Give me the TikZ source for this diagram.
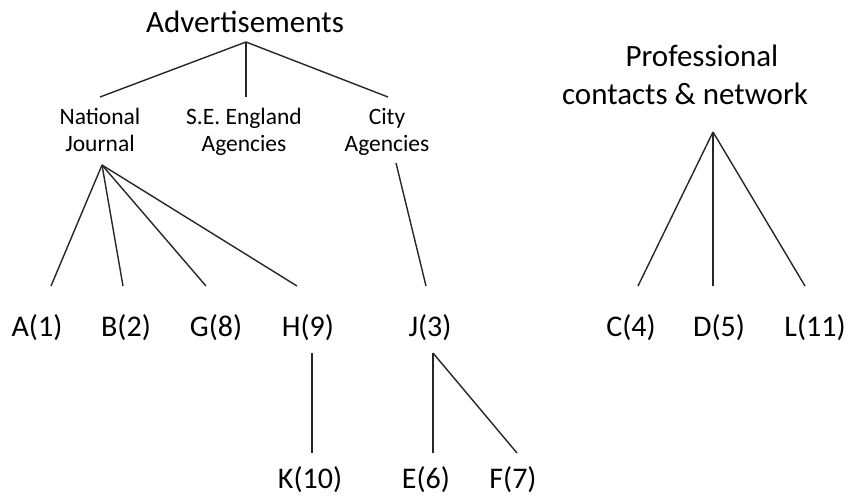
\documentclass[tikz,border=0pt]{standalone}
\usepackage{fontspec}
\setmainfont{Carlito}
\usetikzlibrary{positioning}

\begin{document}
\begin{tikzpicture}[
  x=1pt, y=-1pt,
  heading/.style={font=\fontsize{31}{38}\selectfont, align=center,
                  inner sep=0pt, anchor=base},
  channel/.style={font=\fontsize{23.5}{28}\selectfont, align=center,
                  inner sep=0pt, anchor=base},
  leaf/.style={font=\fontsize{30}{36}\selectfont, inner sep=0pt, anchor=base},
  link/.style={line width=1.4pt, black!85},
]
  \useasboundingbox (0,0) rectangle (851,500);

  % Headings
  \node[heading] (ads) at (245,33) {Advertisements};
  \node[heading] (prof) at (685,105) {\hspace*{34pt}Professional\\contacts \& network};

  % Advertising channels
  \node[channel] (nj) at (100,152) {National\\Journal};
  \node[channel] (se) at (244,152) {S.E. England\\Agencies};
  \node[channel] (city) at (387,152) {City\\Agencies};

  % Candidates, first row
  \node[leaf] (a1) at (37,336) {A(1)};
  \node[leaf] (b2) at (126,336) {B(2)};
  \node[leaf] (g8) at (216,336) {G(8)};
  \node[leaf] (h9) at (308,336) {H(9)};
  \node[leaf] (j3) at (430,336) {J(3)};
  \node[leaf] (c4) at (631,336) {C(4)};
  \node[leaf] (d5) at (719,336) {D(5)};
  \node[leaf] (l11) at (815,336) {L(11)};

  % Candidates, second row
  \node[leaf] (k10) at (310,488) {K(10)};
  \node[leaf] (e6) at (426,488) {E(6)};
  \node[leaf] (f7) at (513,488) {F(7)};

  % Advertisements -> channels
  \draw[link] ([shift={(1pt,-9pt)}]ads.base) -- ([yshift=55pt]nj.base);
  \draw[link] ([shift={(1pt,-9pt)}]ads.base) -- ([shift={(2pt,55pt)}]se.base);
  \draw[link] ([shift={(1pt,-9pt)}]ads.base) -- ([shift={(1pt,55pt)}]city.base);

  % National Journal
  \draw[link] ([shift={(2pt,-13pt)}]nj.base) -- ([shift={(14pt,50pt)}]a1.base);
  \draw[link] ([shift={(2pt,-13pt)}]nj.base) -- ([shift={(-3pt,50pt)}]b2.base);
  \draw[link] ([shift={(2pt,-13pt)}]nj.base) -- ([shift={(-10pt,50pt)}]g8.base);
  \draw[link] ([shift={(2pt,-13pt)}]nj.base) -- ([shift={(-11pt,50pt)}]h9.base);

  % City Agencies
  \draw[link] ([shift={(9pt,-11pt)}]city.base) -- ([shift={(-4pt,50pt)}]j3.base);

  % Professional contacts
  \draw[link] ([shift={(28pt,-27pt)}]prof.base) -- ([shift={(7pt,50pt)}]c4.base);
  \draw[link] ([shift={(28pt,-27pt)}]prof.base) -- ([shift={(-6pt,50pt)}]d5.base);
  \draw[link] ([shift={(28pt,-27pt)}]prof.base) -- ([shift={(-10pt,50pt)}]l11.base);

  % Second level
  \draw[link] ([shift={(4pt,-17pt)}]h9.base) -- ([shift={(2pt,35pt)}]k10.base);
  \draw[link] ([shift={(3pt,-17pt)}]j3.base) -- ([shift={(7pt,35pt)}]e6.base);
  \draw[link] ([shift={(3pt,-17pt)}]j3.base) -- ([shift={(4pt,35pt)}]f7.base);
\end{tikzpicture}
\end{document}
